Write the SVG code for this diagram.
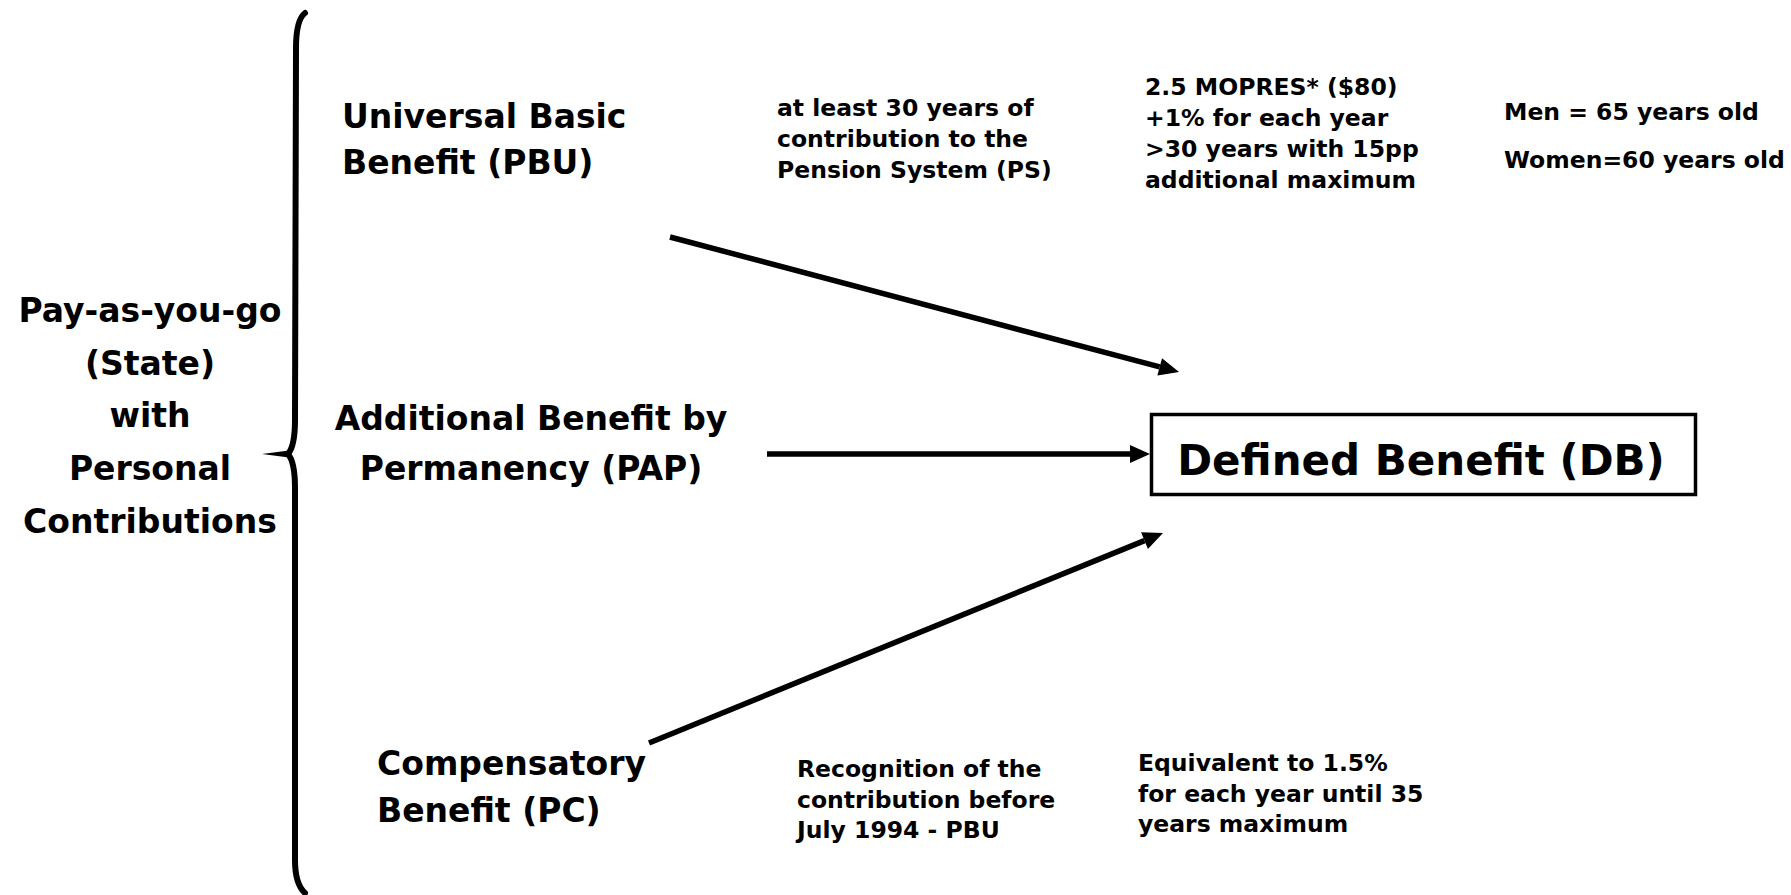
<svg xmlns="http://www.w3.org/2000/svg" width="1791" height="895" viewBox="0 0 1791 895">
  <style>
    .lbl { font-family: "DejaVu Sans", "Liberation Sans", sans-serif; font-weight: bold; fill: #000; }
    .big { font-size: 33px; }
    .small { font-size: 23.5px; }
    .db { font-size: 42px; }
    .mid { text-anchor: middle; }
    .conn { stroke: #000; stroke-width: 5.5; fill: none; }
  </style>
  <defs>
    <marker id="arrowhead" markerUnits="userSpaceOnUse" markerWidth="20" markerHeight="18" refX="0" refY="9" orient="auto" overflow="visible">
      <path d="M0,0 L20,9 L0,18 Z" fill="#000"/>
    </marker>
  </defs>

  <rect width="1791" height="895" fill="#fff"/>

  <!-- curly brace grouping the three benefits -->
  <g id="brace">
    <path d="M305,13 Q296,20 296,48 L295,420 Q295,446 288,454 Q295,462 295,488 L295,860 Q295,884 305,893" fill="none" stroke="#000" stroke-width="6" stroke-linecap="round" stroke-linejoin="round"/>
    <path d="M262,454 L289,450.5 L289,457.5 Z" fill="#000"/>
  </g>

  <g id="payg">
    <text class="lbl big mid" x="150" y="322">Pay-as-you-go</text>
    <text class="lbl big mid" x="150" y="375">(State)</text>
    <text class="lbl big mid" x="150" y="427">with</text>
    <text class="lbl big mid" x="150" y="480">Personal</text>
    <text class="lbl big mid" x="150" y="533">Contributions</text>
  </g>

  <g id="pbu">
    <text class="lbl big" x="342" y="128">Universal Basic</text>
    <text class="lbl big" x="342" y="174">Benefit (PBU)</text>
  </g>

  <g id="pap">
    <text class="lbl big mid" x="531" y="430">Additional Benefit by</text>
    <text class="lbl big mid" x="531" y="480">Permanency (PAP)</text>
  </g>

  <g id="pc">
    <text class="lbl big" x="377" y="775">Compensatory</text>
    <text class="lbl big" x="377" y="822">Benefit (PC)</text>
  </g>

  <g id="db">
    <rect x="1151.5" y="414.5" width="544" height="80" fill="#fff" stroke="#000" stroke-width="3.5"/>
    <text class="lbl db mid" x="1421" y="475">Defined Benefit (DB)</text>
  </g>

  <g id="pbu-requirement">
    <text class="lbl small" x="777" y="116">at least 30 years of</text>
    <text class="lbl small" x="777" y="147">contribution to the</text>
    <text class="lbl small" x="777" y="178">Pension System (PS)</text>
  </g>

  <g id="pbu-amount">
    <text class="lbl small" x="1145" y="95">2.5 MOPRES* ($80)</text>
    <text class="lbl small" x="1145" y="126">+1% for each year</text>
    <text class="lbl small" x="1145" y="157">&gt;30 years with 15pp</text>
    <text class="lbl small" x="1145" y="188">additional maximum</text>
  </g>

  <g id="retirement-age">
    <text class="lbl small" x="1504" y="120">Men = 65 years old</text>
    <text class="lbl small" x="1504" y="168">Women=60 years old</text>
  </g>

  <g id="pc-requirement">
    <text class="lbl small" x="797" y="777">Recognition of the</text>
    <text class="lbl small" x="797" y="808">contribution before</text>
    <text class="lbl small" x="797" y="838">July 1994 - PBU</text>
  </g>

  <g id="pc-amount">
    <text class="lbl small" x="1138" y="771">Equivalent to 1.5%</text>
    <text class="lbl small" x="1138" y="802">for each year until 35</text>
    <text class="lbl small" x="1138" y="832">years maximum</text>
  </g>

  <g id="connectors">
    <line class="conn" x1="670" y1="237" x2="1159.7" y2="366.9" marker-end="url(#arrowhead)"/>
    <line class="conn" x1="767" y1="454" x2="1130" y2="454" marker-end="url(#arrowhead)"/>
    <line class="conn" x1="649" y1="743" x2="1144.5" y2="540.6" marker-end="url(#arrowhead)"/>
  </g>
</svg>
